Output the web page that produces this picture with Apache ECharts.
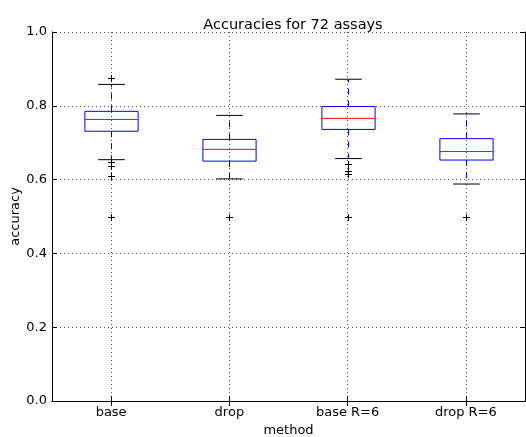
<!DOCTYPE html>
<html>
<head>
<meta charset="utf-8">
<script src="https://cdn.jsdelivr.net/npm/echarts@6/dist/echarts.min.js"></script>
<style>
  html, body { margin: 0; padding: 0; background: #fff; }
  #chart { width: 526px; height: 437px; }
</style>
</head>
<body>
<div id="chart"></div>
<script>
// box statistics
var methods = ['base', 'drop', 'base R=6', 'drop R=6'];
var whiskerLow = [0.654, 0.602, 0.657, 0.588];
var q1 = [0.731, 0.650, 0.736, 0.653];
var median = [0.763, 0.682, 0.766, 0.676];
var q3 = [0.785, 0.709, 0.798, 0.711];
var whiskerHigh = [0.858, 0.774, 0.872, 0.778];
var outliers = [
  [0.876, 0.648, 0.637, 0.609, 0.5],
  [0.5],
  [0.643, 0.622, 0.616, 0.5],
  [0.5]
];
var yTicks = [0, 0.2, 0.4, 0.6, 0.8, 1.0];

var font = 'DejaVu Sans';

var boxData = methods.map(function(m, i) {
  return [i, whiskerLow[i], q1[i], median[i], q3[i], whiskerHigh[i]];
});
var outlierData = [];
outliers.forEach(function(list, i) {
  list.forEach(function(v) { outlierData.push([i, v]); });
});

function renderBox(params, api) {
  var x = api.value(0);
  var pLo = api.coord([x, api.value(1)]);
  var pQ1 = api.coord([x, api.value(2)]);
  var pMed = api.coord([x, api.value(3)]);
  var pQ3 = api.coord([x, api.value(4)]);
  var pHi = api.coord([x, api.value(5)]);
  var cx = Math.round(pMed[0]) + 0.5;
  var bw = api.size([1, 0])[0] * 0.45;
  var cw = bw / 2;
  var blue = { stroke: '#0000ff', lineWidth: 1, fill: null };
  var dashed = { stroke: '#0000ff', lineWidth: 1, lineDash: [6, 6] };
  var black = { stroke: '#000000', lineWidth: 1 };
  return {
    type: 'group',
    children: [
      { type: 'line', shape: { x1: cx, y1: pQ3[1], x2: cx, y2: pHi[1] }, style: dashed },
      { type: 'line', shape: { x1: cx, y1: pQ1[1], x2: cx, y2: pLo[1] }, style: dashed },
      { type: 'line', shape: { x1: cx - cw / 2, y1: pHi[1], x2: cx + cw / 2, y2: pHi[1] }, style: black },
      { type: 'line', shape: { x1: cx - cw / 2, y1: pLo[1], x2: cx + cw / 2, y2: pLo[1] }, style: black },
      { type: 'rect', shape: { x: cx - bw / 2, y: pQ3[1], width: bw, height: pQ1[1] - pQ3[1] }, style: blue },
      { type: 'line', shape: { x1: cx - bw / 2, y1: pMed[1], x2: cx + bw / 2, y2: pMed[1] }, style: { stroke: '#ff0000', lineWidth: 1 } }
    ]
  };
}

function renderPlus(params, api) {
  var p = api.coord([api.value(0), api.value(1)]);
  var cx = Math.round(p[0]) + 0.5, cy = Math.round(p[1]) + 0.5;
  var s = 3.5;
  var st = { stroke: '#000000', lineWidth: 1 };
  return {
    type: 'group',
    children: [
      { type: 'line', shape: { x1: cx - s, y1: cy, x2: cx + s, y2: cy }, style: st },
      { type: 'line', shape: { x1: cx, y1: cy - s, x2: cx, y2: cy + s }, style: st }
    ]
  };
}

var chart = echarts.init(document.getElementById('chart'), null, { renderer: 'canvas' });

var gridLine = { show: true, lineStyle: { color: '#555', type: [1, 3], width: 1 } };
var axisLineStyle = { show: true, lineStyle: { color: '#000', width: 1 } };

var option = {
  backgroundColor: '#fff',
  animation: false,
  title: {
    text: 'Accuracies for 72 assays',
    left: 288, top: 13, textAlign: 'center',
    textStyle: { fontFamily: font, fontSize: 14.5, fontWeight: 'normal', color: '#000' }
  },
  grid: { left: 52, right: 1, top: 32, bottom: 36, containLabel: false, outerBoundsMode: 'none' },
  xAxis: [{
    type: 'category',
    data: methods,
    boundaryGap: true,
    position: 'bottom',
    name: 'method',
    nameLocation: 'middle',
    nameGap: 23,
    nameMoveOverlap: false,
    nameTextStyle: { fontFamily: font, fontSize: 13, color: '#000' },
    axisLine: axisLineStyle,
    axisTick: { show: true, inside: true, alignWithLabel: true, length: 5, lineStyle: { color: '#000' } },
    axisLabel: { fontFamily: font, fontSize: 13, color: '#000', margin: 5 },
    splitLine: { show: true, alignWithLabel: true, lineStyle: gridLine.lineStyle }
  }, {
    type: 'category',
    data: methods,
    boundaryGap: true,
    position: 'top',
    axisLine: axisLineStyle,
    axisTick: { show: true, inside: true, alignWithLabel: true, length: 5, lineStyle: { color: '#000' } },
    axisLabel: { show: false },
    splitLine: { show: false }
  }],
  yAxis: [{
    type: 'value',
    min: 0, max: 1, interval: 0.2,
    name: 'accuracy',
    nameLocation: 'middle',
    nameGap: 30,
    nameMoveOverlap: false,
    nameTextStyle: { fontFamily: font, fontSize: 13, color: '#000' },
    axisLine: axisLineStyle,
    axisTick: { show: true, inside: true, length: 5, lineStyle: { color: '#000' } },
    axisLabel: {
      fontFamily: font, fontSize: 13, color: '#000', margin: 5,
      formatter: function(v) { return yTicks.indexOf(Math.round(v * 10) / 10) >= 0 ? v.toFixed(1) : ''; }
    },
    splitLine: gridLine
  }, {
    type: 'value',
    min: 0, max: 1, interval: 0.2,
    position: 'right',
    axisLine: axisLineStyle,
    axisTick: { show: true, inside: true, length: 5, lineStyle: { color: '#000' } },
    axisLabel: { show: false },
    splitLine: { show: false }
  }],
  series: [{
    type: 'custom',
    xAxisIndex: 0, yAxisIndex: 0,
    renderItem: renderBox,
    data: boxData,
    z: 3
  }, {
    type: 'custom',
    xAxisIndex: 0, yAxisIndex: 0,
    renderItem: renderPlus,
    data: outlierData,
    z: 4
  }]
};
chart.setOption(option);
</script>
</body>
</html>
